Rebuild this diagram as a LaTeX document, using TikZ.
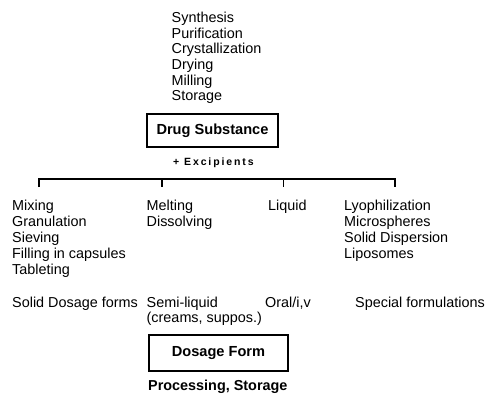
\documentclass[tikz,border=0pt]{standalone}
\usepackage{fontspec}
\setmainfont{Liberation Sans}
\begin{document}
\begin{tikzpicture}[x=1pt,y=-1pt,
  txt/.style={anchor=base west,inner sep=0pt,font=\fontsize{14.4}{16}\selectfont},
  btxt/.style={anchor=base west,inner sep=0pt,font=\fontsize{14.4}{16}\selectfont\bfseries},
  boxnode/.style={draw,line width=1.2pt,inner sep=0pt,font=\fontsize{14.6}{16}\selectfont\bfseries},
  tree/.style={line width=1.1pt}]
\useasboundingbox (0,0) rectangle (488,396);
% top list
\node[txt] (s1) at (171.5,23) {Synthesis};
\node[txt] (s2) at (171.5,38.5) {Purification};
\node[txt] (s3) at (171.5,54) {Crystallization};
\node[txt] (s4) at (171.5,69.5) {Drying};
\node[txt] (s5) at (171.5,85) {Milling};
\node[txt] (s6) at (171.5,100.5) {Storage};
% drug substance box
\node[boxnode,minimum width=131pt,minimum height=33pt] (ds) at (212.5,130.5) {Drug Substance};
\node[anchor=base west,inner sep=0pt,font=\fontsize{10.5}{12}\selectfont\bfseries\addfontfeature{LetterSpace=18}] (exc) at (173,165) {+ Excipients};
% tree
\coordinate (h1) at (39,179);
\coordinate (h2) at (162,179);
\coordinate (h3) at (283.5,179);
\coordinate (h4) at (395,179);
\coordinate (b1) at (39,187);
\coordinate (b2) at (162,187);
\coordinate (b3) at (283.5,187);
\coordinate (b4) at (395,187);
\draw[tree] (b1) -- (h1) -- (h4) -- (b4);
\draw[tree] (h2) -- (b2);
\draw[tree] (h3) -- (b3);
% column 1
\node[txt] (c11) at (12,210) {Mixing};
\node[txt] (c12) at (12,226) {Granulation};
\node[txt] (c13) at (12,242) {Sieving};
\node[txt] (c14) at (12,258) {Filling in capsules};
\node[txt] (c15) at (12,274) {Tableting};
% column 2
\node[txt] (c21) at (146.5,210) {Melting};
\node[txt] (c22) at (146.5,226) {Dissolving};
% column 3
\node[txt] (c31) at (268,210) {Liquid};
% column 4
\node[txt] (c41) at (344,210) {Lyophilization};
\node[txt] (c42) at (344,226) {Microspheres};
\node[txt] (c43) at (344,242) {Solid Dispersion};
\node[txt] (c44) at (344,258) {Liposomes};
% forms
\node[txt] (f1) at (12,307) {Solid Dosage forms};
\node[txt] (f2) at (146.5,307) {Semi-liquid};
\node[txt] (f2b) at (146.5,322) {(creams, suppos.)};
\node[txt] (f3) at (265,307) {Oral/i,v};
\node[txt] (f4) at (355,307) {Special formulations};
% dosage form box
\node[boxnode,minimum width=139pt,minimum height=36pt] (df) at (218.5,353) {Dosage Form};
\node[btxt] (ps) at (148,390) {Processing, Storage};
\end{tikzpicture}
\end{document}
